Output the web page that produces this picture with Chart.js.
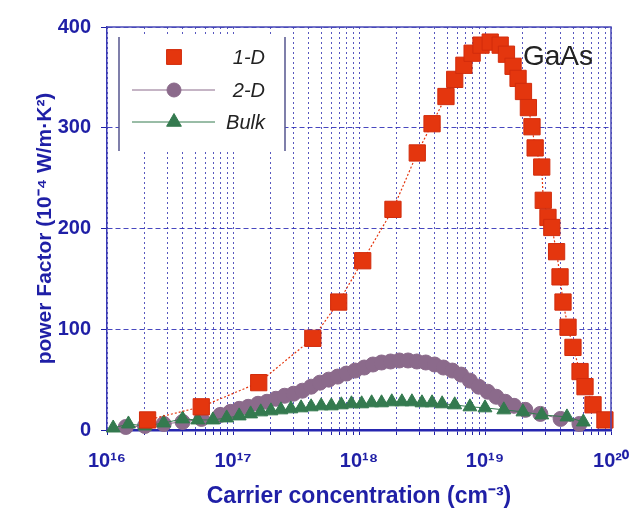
<!DOCTYPE html>
<html><head><meta charset="utf-8">
<script src="https://cdn.jsdelivr.net/npm/chart.js@4.4.1/dist/chart.umd.min.js"></script>
<style>html,body{margin:0;padding:0;background:#fff;}canvas{display:block;}</style>
</head><body>
<canvas id="c" width="633" height="515"></canvas>
<script>
// ---- data ----
const conc1D = [2.1e16,5.6e16,1.6e17,4.3e17,6.9e17,1.07e18,1.86e18,2.9e18,3.8e18,4.9e18,5.75e18,6.8e18,7.9e18,9.3e18,1.1e19,1.32e19,1.48e19,1.67e19,1.83e19,2.02e19,2.21e19,2.36e19,2.5e19,2.82e19,2.9e19,3.16e19,3.39e19,3.7e19,3.94e19,4.16e19,4.56e19,4.99e19,5.68e19,6.22e19,7.2e19,8.95e19];
const pf1D   = [10,23,47,91,127,168,219,275,304,331,348,362,374,382,385,382,373,361,349,336,320,301,280,261,228,211,201,177,152,127,102,82,58,43,25,10];

const conc2D = [1.41e16,2.0e16,2.82e16,3.98e16,5.62e16,7.94e16,9.55e16,1.12e17,1.32e17,1.58e17,1.86e17,2.19e17,2.57e17,3.02e17,3.55e17,4.17e17,4.9e17,5.75e17,6.76e17,7.94e17,9.33e17,1.1e18,1.29e18,1.51e18,1.78e18,2.09e18,2.45e18,2.88e18,3.39e18,3.98e18,4.68e18,5.5e18,6.46e18,7.59e18,8.91e18,1.05e19,1.23e19,1.45e19,1.7e19,2.09e19,2.75e19,3.98e19,5.62e19];
const pf2D   = [3,4,6,8,11,15,18,21,23,26,28,31,34,36,39,43,47,50,53,56,59,62,65,67,68,69,69,68,67,65,62,59,55,49,43,38,33,28,24,20,16,11,6];

const concBulk = [1.12e16,1.48e16,2.0e16,2.82e16,3.98e16,5.25e16,6.92e16,8.91e16,1.12e17,1.38e17,1.66e17,2.0e17,2.4e17,2.88e17,3.47e17,4.17e17,5.01e17,6.03e17,7.24e17,8.71e17,1.05e18,1.26e18,1.51e18,1.82e18,2.19e18,2.63e18,3.16e18,3.8e18,4.57e18,5.75e18,7.59e18,1.0e19,1.41e19,2.0e19,2.82e19,4.47e19,6.03e19];
const pfBulk   = [2,6,4,7,11,10,10,12,14,16,18,19,20,21,22,23,24,24,25,26,26,27,27,28,28,28,27,27,26,25,23,22,20,18,15,13,8];

const seriesLabels = ['1-D','2-D','Bulk'];
const xDecades = [1e16,1e17,1e18,1e19,1e20];
const xTickLabels = ['10¹⁶','10¹⁷','10¹⁸','10¹⁹','10²⁰'];
const yTicks = [0,100,200,300,400];
const xTitle = 'Carrier concentration (cm⁻³)';
const yTitle = 'power Factor (10⁻⁴ W/m·K²)';
const panelLabel = 'GaAs';

// ---- styling ----
const BLUE = '#1f1fa6';
const RED = '#e4360e', PURPLE = '#8b6a8b', GREEN = '#347a4f';
const FONT = "'Liberation Sans', Arial, sans-serif";

function pts(xs, ys){ return xs.map((x,i)=>({x:x, y:ys[i]})); }

// minor log gridline positions from decades
const xGridTicks = [];
for (let d = 0; d < xDecades.length - 1; d++) {
  for (let m = 1; m <= 9; m++) xGridTicks.push(xDecades[d]*m);
}
xGridTicks.push(xDecades[xDecades.length-1]);

const datasets = [
  {label:seriesLabels[0], data:pts(conc1D,pf1D), showLine:true, order:0,
   borderColor:RED, borderWidth:1.2, borderDash:[2,2],
   pointStyle:'rect', pointRadius:11.5, pointHoverRadius:11.5,
   pointBackgroundColor:RED, pointBorderColor:'#d22c0c', pointBorderWidth:1, clip:false},
  {label:seriesLabels[1], data:pts(conc2D,pf2D), showLine:true, order:2,
   borderColor:PURPLE, borderWidth:1,
   pointStyle:'circle', pointRadius:7.5, pointHoverRadius:7.5,
   pointBackgroundColor:PURPLE, pointBorderColor:PURPLE, pointBorderWidth:1, clip:false},
  {label:seriesLabels[2], data:pts(concBulk,pfBulk), showLine:true, order:1,
   borderColor:GREEN, borderWidth:1,
   pointStyle:'triangle', pointRadius:8, pointHoverRadius:8,
   pointBackgroundColor:GREEN, pointBorderColor:GREEN, pointBorderWidth:1, clip:false}
];

const framePlugin = {
  id:'frame',
  beforeDraw(chart){
    const ctx = chart.ctx;
    ctx.save(); ctx.fillStyle='#fff'; ctx.fillRect(0,0,chart.width,chart.height); ctx.restore();
  },
  afterDraw(chart){
    const ctx = chart.ctx, a = chart.chartArea;
    ctx.save();
    // top & right borders
    ctx.strokeStyle = '#4a4ab8'; ctx.lineWidth = 1.5;
    ctx.beginPath(); ctx.moveTo(a.left, a.top); ctx.lineTo(a.right, a.top); ctx.lineTo(a.right, a.bottom); ctx.stroke();
    // legend box
    const L = 119, R = 285, T = 37, B = 151;
    ctx.fillStyle = '#fff'; ctx.fillRect(L, T, R-L, B-T);
    ctx.strokeStyle = '#56568e'; ctx.lineWidth = 1.5;
    ctx.beginPath(); ctx.moveTo(L, T); ctx.lineTo(L, B); ctx.moveTo(R, T); ctx.lineTo(R, B); ctx.stroke();
    const rows = [57, 90, 122];
    chart.data.datasets.forEach((ds, i) => {
      const y = rows[i];
      if (i > 0) {
        ctx.strokeStyle = ds.borderColor; ctx.lineWidth = 1; ctx.setLineDash([]);
        ctx.beginPath(); ctx.moveTo(132, y); ctx.lineTo(215, y); ctx.stroke();
      }
      ctx.fillStyle = ds.pointBackgroundColor; ctx.strokeStyle = ds.pointBorderColor;
      ctx.lineWidth = 1;
      Chart.helpers.drawPoint(ctx, {pointStyle: ds.pointStyle, radius: i===0 ? 10.5 : (i===1 ? 7 : 8.5), rotation:0, borderWidth:1}, 174, y);
      ctx.fillStyle = '#222'; ctx.font = 'italic 20px ' + FONT;
      ctx.textAlign = 'right'; ctx.textBaseline = 'middle';
      ctx.fillText(ds.label, 265, y + 1);
    });
    // panel label
    ctx.fillStyle = '#222'; ctx.font = '28px ' + FONT; ctx.textAlign = 'left'; ctx.textBaseline = 'middle';
    ctx.fillText(panelLabel, 523, 57);
    ctx.restore();
  }
};

new Chart(document.getElementById('c'), {
  type:'scatter',
  data:{datasets},
  options:{
    responsive:false, animation:false, devicePixelRatio:1,
    layout:{padding:{left:0, right:22, top:27, bottom:0}},
    plugins:{legend:{display:false}, tooltip:{enabled:false}},
    scales:{
      x:{
        type:'logarithmic', min:xDecades[0], max:xDecades[xDecades.length-1],
        afterBuildTicks(scale){ scale.ticks = xGridTicks.map(v=>({value:v})); },
        afterFit(scale){ scale.height = 85; scale.paddingLeft = 0; scale.paddingRight = 0; },
        ticks:{
          autoSkip:false, maxRotation:0, minRotation:0, padding:14, color:BLUE,
          font:{family:FONT, size:20, weight:'bold'},
          callback(v){ const i = xDecades.findIndex(d => Math.abs(d - v)/d < 1e-6); return i >= 0 ? xTickLabels[i] : ''; }
        },
        grid:{color:'rgba(45,45,175,0.8)', lineWidth:1, tickLength:5, tickColor:BLUE},
        border:{display:true, color:'#2626b0', width:2.5, dash:[2,3]},
        title:{display:true, text:xTitle, color:BLUE, font:{family:FONT, size:23, weight:'bold'}, padding:{top:0, bottom:5}}
      },
      y:{
        min:yTicks[0], max:yTicks[yTicks.length-1],
        afterBuildTicks(scale){ scale.ticks = yTicks.map(v=>({value:v})); },
        afterFit(scale){ scale.width = 107; scale.paddingTop = 0; scale.paddingBottom = 0; },
        ticks:{padding:10, color:BLUE, font:{family:FONT, size:20, weight:'bold'}},
        grid:{color:'rgba(40,40,180,0.85)', lineWidth:1, tickLength:6, tickColor:BLUE},
        border:{display:true, color:'#3a3ab4', width:1.5, dash:[5,3]},
        title:{display:true, text:yTitle, color:BLUE, font:{family:FONT, size:21, weight:'bold'}, padding:{top:33, bottom:0}}
      }
    }
  },
  plugins:[framePlugin]
});
</script>
</body></html>
